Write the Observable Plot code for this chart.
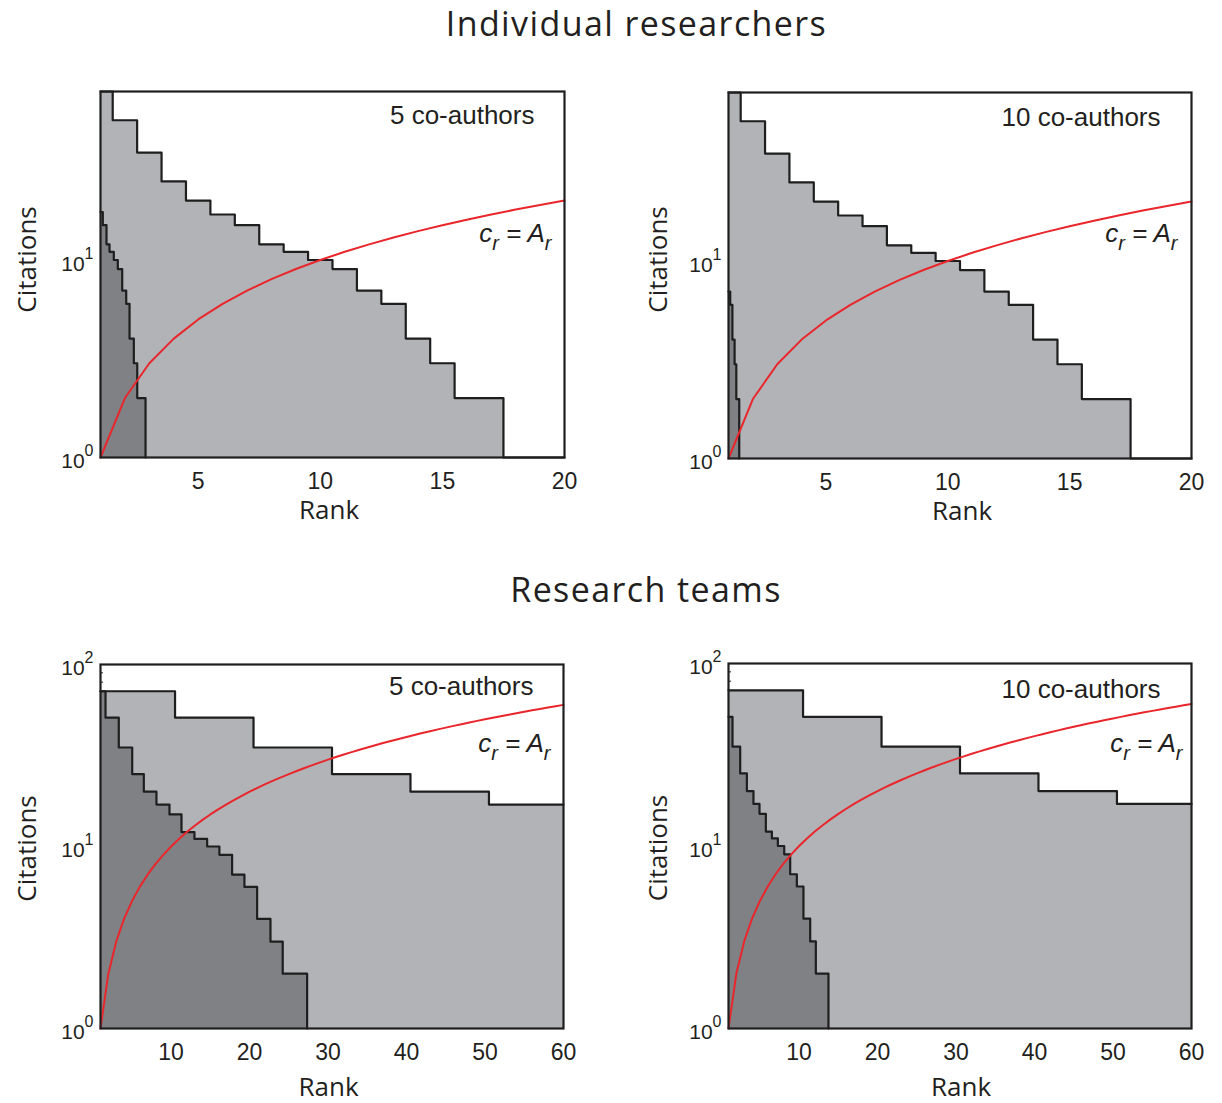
<!DOCTYPE html>
<html lang="en"><head><meta charset="utf-8">
<script src="https://cdn.jsdelivr.net/npm/d3@7"></script>
<script src="https://cdn.jsdelivr.net/npm/@observablehq/plot@0.6"></script>
<style>
body{margin:0;background:#fff;}
#wrap{position:relative;width:1222px;height:1103px;background:#fff;overflow:hidden;}
.title{position:absolute;font-family:"Open Sans",sans-serif;font-size:34px;letter-spacing:1.4px;line-height:normal;color:#231f20;white-space:nowrap;transform:translateX(-50%);}
.panel{position:absolute;}
</style></head><body><div id="wrap"></div>
<script>
// ---------- data ----------
// Individual researchers: light series, citations by rank 1..20
const indivRanks = [1,2,3,4,5,6,7,8,9,10,11,12,13,14,15,16,17,18,19,20];
const indivLightCitations = [71.3,51,35,25,20,17,15,12,11,10,9,7,6,4,3,2,2,1,1,1];
// Individual researchers: dark series (step edges in rank units, citations between edges)
const indiv5DarkEdges = [1,1.094,1.246,1.369,1.545,1.709,1.889,2.053,2.189,2.365,2.504,2.844];
const indiv5DarkCitations = [17.5,15,12,11,10,9,7,6,4,3,2];
const indiv10DarkEdges = [1,1.07,1.16,1.25,1.32,1.44];
const indiv10DarkCitations = [7,6,4,3,2];
// Research teams: light series
const teamLightEdges = [1,10.5,20.5,30.5,40.5,50.5,60];
const teamLightCitations = [71.3,51,35,25,20,17];
// Research teams: dark series
const team5DarkEdges = [1,1.64,3.33,5.04,6.52,8.13,9.79,11.32,12.97,14.59,16.15,17.77,19.34,20.96,22.66,24.22,27.33];
const team5DarkCitations = [71.3,51,35,25,20,17,15,12,11,10,9,7,6,4,3,2];
const team10DarkEdges = [1,1.51,2.49,3.34,4.18,4.95,5.76,6.53,7.29,8.1,8.86,9.71,10.55,11.41,12.13,13.74];
const team10DarkCitations = [51,35,25,20,17,15,12,11,10,9,7,6,4,3,2];
// reference line c_r = A_r (rank points)
const indivLineRanks = [1,2,3,4,5,6,7,8,9,10,11,12,13,14,15,16,17,18,19,20];
const teamLineRanks = [1,2,3,4,5,6,7,8,9,10,11,12,13,14,15,16,17,18,19,20,21,22,23,24,25,26,27,28,29,30,31,32,33,34,35,36,37,38,39,40,41,42,43,44,45,46,47,48,49,50,51,52,53,54,55,56,57,58,59,60];
// ticks
const indivXTicks = [5,10,15,20];
const teamXTicks = [10,20,30,40,50,60];
const indivYTicks = [1,10];
const teamYTicks = [1,10,100];
const teamMinorTicks = [20,30,40,50,60,70,80,90];
const titles = ["Individual researchers","Research teams"];
const panelLabels = ["5 co-authors","10 co-authors"];

// ---------- style ----------
const LIGHT = "#b2b3b7", DARK = "#808185", INK = "#1e1e1e", RED = "#e8262b";
const TXT = "#231f20";
const NS = "http://www.w3.org/2000/svg";

function stepPoints(edges, values, endValue) {
  const pts = values.map((v, i) => ({x: edges[i], y: v}));
  pts.push({x: edges[edges.length - 1], y: endValue === undefined ? values[values.length - 1] : endValue});
  return pts;
}

function panel(o) {
  const marks = [];
  if (o.minor) marks.push(Plot.axisY({ticks: o.minor, tickSize: -3, tickFormat: () => "", label: null, stroke: INK, strokeWidth: 1}));
  marks.push(
    Plot.areaY(o.light, {x: "x", y1: 1, y2: "y", curve: o.lightCurve, fill: LIGHT}),
    Plot.areaY(o.dark, {x: "x", y1: 1, y2: "y", curve: "step-after", fill: DARK}),
    Plot.line(o.light, {x: "x", y: "y", curve: o.lightCurve, stroke: INK, strokeWidth: 2.2}),
    Plot.line(o.dark, {x: "x", y: "y", curve: "step-after", stroke: INK, strokeWidth: 2.2}),
    Plot.line(o.red, {x: d => d, y: d => d, stroke: RED, strokeWidth: 2}),
    Plot.axisX({ticks: o.xTicks, tickSize: 0, tickPadding: 15, fontSize: 23, label: null, tickFormat: d => String(d)}),
    Plot.axisY({ticks: o.yTicks, tickSize: 0, tickPadding: 7, dy: 4, fontSize: 21, label: null,
      tickFormat: d => "10^" + Math.round(Math.log10(d))}),
    Plot.text(["Citations"], {text: d => d, frameAnchor: "left", textAnchor: "middle", dx: o.citDx, dy: o.citDy, rotate: -90,
      fontSize: 26, fontFamily: "Open Sans", fill: TXT}),
    Plot.text(["Rank"], {text: d => d, frameAnchor: "bottom", lineAnchor: "top", dx: o.rankDx, dy: o.rankDy,
      fontSize: 26, fontFamily: "Open Sans", fill: TXT}),
    Plot.text([o.label], {text: d => d, frameAnchor: "top-right", lineAnchor: "top", textAnchor: "end",
      dx: o.labDx, dy: o.labDy, fontSize: 26, fill: TXT}),
    Plot.text(["c_r = A_r"], {text: d => d, frameAnchor: "top-right", lineAnchor: "top", textAnchor: "end",
      dx: o.eqDx, dy: o.eqDy, fontSize: 26, fontStyle: "italic", fill: TXT}),
    Plot.frame({stroke: INK, strokeWidth: 2.2})
  );
  const svg = Plot.plot({
    width: o.width, height: o.height,
    marginLeft: o.ml, marginRight: o.mr, marginTop: o.mt, marginBottom: o.mb,
    x: {type: "linear", domain: o.xDomain},
    y: {type: "log", domain: o.yDomain},
    style: {background: "transparent", overflow: "visible", fontFamily: "'Liberation Sans', Arial, sans-serif", fontSize: "23px", color: TXT},
    marks
  });
  // superscript exponents on the y tick labels
  svg.querySelectorAll('g[aria-label="y-axis tick label"] text').forEach(t => {
    const m = /^10\^(\d)$/.exec(t.textContent);
    if (!m) return;
    t.textContent = "";
    const a = document.createElementNS(NS, "tspan"); a.textContent = "10";
    a.setAttribute("font-size", "21"); t.appendChild(a);
    const b = document.createElementNS(NS, "tspan"); b.textContent = m[1];
    b.setAttribute("font-size", "16"); b.setAttribute("dy", "-12"); t.appendChild(b);
  });
  // subscripts in the equation label
  svg.querySelectorAll("text").forEach(t => {
    if (t.textContent !== "c_r = A_r") return;
    const target = t.querySelector("tspan") ? t.querySelector("tspan").parentNode : t;
    target.textContent = "";
    const parts = [["c", 0, null], ["r", 8, "20"], [" = A", -8, null], ["r", 8, "20"]];
    parts.forEach(([s, dy, fs]) => {
      const sp = document.createElementNS(NS, "tspan");
      sp.textContent = s;
      if (dy) sp.setAttribute("dy", dy);
      if (fs) sp.setAttribute("font-size", fs);
      target.appendChild(sp);
    });
  });
  svg.classList.add("panel");
  svg.style.left = o.left + "px";
  svg.style.top = o.top + "px";
  return svg;
}

const wrap = document.getElementById("wrap");

function addTitle(text, cx, top) {
  const d = document.createElement("div");
  d.className = "title"; d.textContent = text;
  d.style.left = cx + "px"; d.style.top = top + "px";
  wrap.appendChild(d);
}

addTitle(titles[0], 636.5, 0);
addTitle(titles[1], 646, 566);

wrap.appendChild(panel({
  left: 0, top: 60, width: 610, height: 470, ml: 100, mr: 46, mt: 31, mb: 73,
  xDomain: [1, 20], yDomain: [1, 71.3], xTicks: indivXTicks, yTicks: indivYTicks,
  light: indivRanks.map((r, i) => ({x: r, y: indivLightCitations[i]})), lightCurve: "step",
  dark: stepPoints(indiv5DarkEdges, indiv5DarkCitations, 1),
  red: indivLineRanks, label: panelLabels[0],
  citDx: -73, citDy: -15, rankDx: -3.5, rankDy: 43.5, labDx: -30, labDy: 14, eqDx: -13, eqDy: 132
}));

wrap.appendChild(panel({
  left: 620, top: 62, width: 602, height: 470, ml: 108, mr: 31, mt: 30, mb: 74,
  xDomain: [1, 20], yDomain: [1, 71.3], xTicks: indivXTicks, yTicks: indivYTicks,
  light: indivRanks.map((r, i) => ({x: r, y: indivLightCitations[i]})), lightCurve: "step",
  dark: stepPoints(indiv10DarkEdges, indiv10DarkCitations, 1),
  red: indivLineRanks, label: panelLabels[1],
  citDx: -70, citDy: -16, rankDx: 2, rankDy: 43.5, labDx: -31, labDy: 15, eqDx: -14, eqDy: 131
}));

wrap.appendChild(panel({
  left: 0, top: 630, width: 610, height: 471, ml: 100, mr: 47, mt: 34, mb: 73,
  xDomain: [1, 60], yDomain: [1, 100], xTicks: teamXTicks, yTicks: teamYTicks, minor: teamMinorTicks,
  light: stepPoints(teamLightEdges, teamLightCitations), lightCurve: "step-after",
  dark: stepPoints(team5DarkEdges, team5DarkCitations, 1),
  red: teamLineRanks, label: panelLabels[0],
  citDx: -73, citDy: 2, rankDx: -3.5, rankDy: 49, labDx: -30, labDy: 12, eqDx: -13, eqDy: 69
}));

wrap.appendChild(panel({
  left: 620, top: 630, width: 602, height: 471, ml: 108, mr: 31, mt: 33, mb: 73,
  xDomain: [1, 60], yDomain: [1, 100], xTicks: teamXTicks, yTicks: teamYTicks, minor: teamMinorTicks,
  light: stepPoints(teamLightEdges, teamLightCitations), lightCurve: "step-after",
  dark: stepPoints(team10DarkEdges, team10DarkCitations, 1),
  red: teamLineRanks, label: panelLabels[1],
  citDx: -70, citDy: 2, rankDx: 1, rankDy: 49, labDx: -31, labDy: 16, eqDx: -9, eqDy: 70
}));
</script>
</body></html>
